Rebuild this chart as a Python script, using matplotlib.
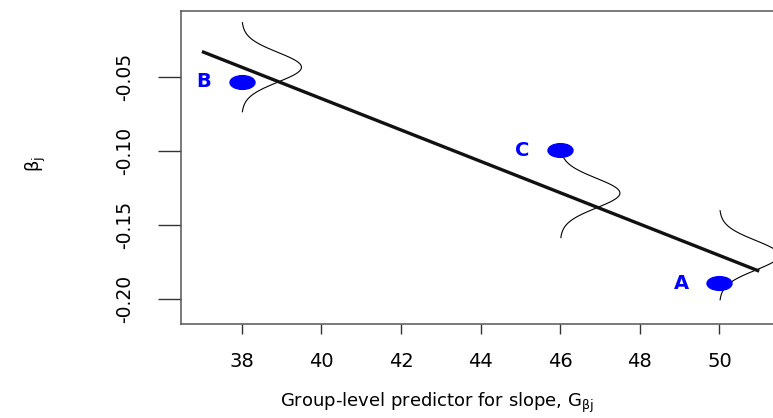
import numpy as np
import matplotlib
matplotlib.use("Agg")
import matplotlib.pyplot as plt
from matplotlib.path import Path
from matplotlib.transforms import Affine2D

# group points
point_labels = ["A", "B", "C"]
point_x = [50, 38, 46]
point_y = [-0.189, -0.0534, -0.0994]

# group-level regression line (end points)
line_x = [37, 51]
line_y = [-0.033, -0.181]

# normal curves drawn sideways at three groups
curve_x = [38, 46, 50]
curve_mu = [-0.0436, -0.1284, -0.1703]
curve_sd = 0.01
curve_width = 1.5   # peak height, in x units

x_ticks = [38, 40, 42, 44, 46, 48, 50]
y_ticks = [-0.20, -0.15, -0.10, -0.05]

fig = plt.figure(figsize=(7.73, 4.18), dpi=100)
ax = fig.add_axes([0.2342, 0.2249, 0.7995, 0.7488])

ax.plot(line_x, line_y, color="#111111", lw=2.4, solid_capstyle="butt", zorder=3)

for cx, mu in zip(curve_x, curve_mu):
    yy = np.linspace(mu - 3 * curve_sd, mu + 3 * curve_sd, 200)
    xx = cx + curve_width * np.exp(-0.5 * ((yy - mu) / curve_sd) ** 2)
    ax.plot(xx, yy, color="black", lw=0.8, zorder=2)

# flattened dot, like the stretched original
ell = Path.unit_circle().transformed(Affine2D().scale(1.0, 0.55))
ax.plot(point_x, point_y, linestyle="none", marker=ell, markersize=18,
        color="#0000ff", zorder=4)
for lab, px, py in zip(point_labels, point_x, point_y):
    ax.annotate(lab, (px, py), xytext=(-27.5, 0), textcoords="offset points",
                ha="center", va="center", color="#0000ff", fontsize=14,
                fontweight="bold")

ax.set_xlim(36.475, 52.0)
ax.set_ylim(-0.2166, -0.0057)

ax.set_xticks(x_ticks)
ax.set_xticklabels([str(v) for v in x_ticks])
ax.set_yticks(y_ticks)
ax.set_yticklabels(["%.2f" % v for v in y_ticks], rotation=90, va="center")

ax.tick_params(axis="x", length=7.2, width=1.0, pad=13, labelsize=14,
               color="#333333")
ax.tick_params(axis="y", length=16.5, width=1.0, pad=17, labelsize=13.5,
               color="#333333")

for side in ["left", "bottom", "top"]:
    ax.spines[side].set_color("#555555")
    ax.spines[side].set_linewidth(1.1)
ax.spines["right"].set_visible(False)

ax.set_xlabel(r"Group-level predictor for slope, $\mathregular{G_{\beta j}}$",
              fontsize=13)
ax.xaxis.set_label_coords(0.414, -0.215)
ax.set_ylabel(r"$\mathregular{\beta_j}$", fontsize=13)
ax.yaxis.set_label_coords(-0.215, 0.51)

fig.savefig("out.png", dpi=100)
